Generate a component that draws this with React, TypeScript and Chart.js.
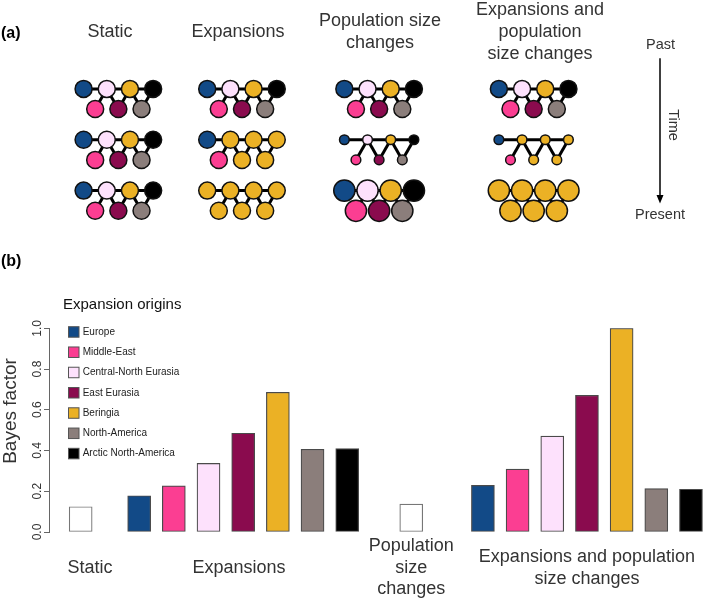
import React, { useEffect, useRef } from "react";
import { Chart, registerables } from "chart.js";

Chart.register(...registerables);

// ---------------- DATA ----------------
const origins = [
  "Europe",
  "Middle-East",
  "Central-North Eurasia",
  "East Eurasia",
  "Beringia",
  "North-America",
  "Arctic North-America",
];
const originColors = ["#124a87", "#fb3e92", "#fde1fc", "#8a0b4e", "#ebb125", "#8b7e7b", "#000000"];

const panelATitles = [["Static"], ["Expansions"], ["Population size", "changes"], ["Expansions and", "population", "size changes"]];
const panelBLabels = [["Static"], ["Expansions"], ["Population", "size", "changes"], ["Expansions and population", "size changes"]];
const legendTitle = "Expansion origins";
const yAxisTitle = "Bayes factor";
const timeLabels = ["Past", "Time", "Present"];

// Bayes factors per scenario (bars)
const staticBayes = [0.124];
const expansionsBayes = [0.178, 0.227, 0.337, 0.485, 0.686, 0.406, 0.409];
const popSizeBayes = [0.137];
const expPopBayes = [0.229, 0.309, 0.471, 0.671, 1.0, 0.213, 0.21];
const bayesTicks = [0, 0.2, 0.4, 0.6, 0.8, 1.0];

// Network snapshots (past -> present). Demes: 4 upper + 3 lower; value = origin index of the lineage
const staticSlices = [
  [0, 2, 4, 6, 1, 3, 5],
  [0, 2, 4, 6, 1, 3, 5],
  [0, 2, 4, 6, 1, 3, 5],
];
const expansionSlices = [
  [0, 2, 4, 6, 1, 3, 5],
  [0, 4, 4, 4, 1, 4, 4],
  [4, 4, 4, 4, 4, 4, 4],
];
const popSizeSlices = [
  [0, 2, 4, 6, 1, 3, 5],
  [0, 2, 4, 6, 1, 3, 5],
  [0, 2, 4, 6, 1, 3, 5],
];
const expPopSlices = [
  [0, 2, 4, 6, 1, 3, 5],
  [0, 4, 4, 4, 1, 4, 4],
  [4, 4, 4, 4, 4, 4, 4],
];
const constantSizes = [1, 1, 1];
const changingSizes = [1, 0.57, 1.25];
const networkEdges = [
  [0, 1], [1, 2], [2, 3],
  [1, 4], [1, 5], [2, 5], [2, 6], [3, 6],
];

// ---------------- LAYOUT / STYLE ----------------
const W = 709;
const H = 600;
const FONT = '"Liberation Sans", Arial, Helvetica, sans-serif';
const TEXT = "#333333";

const colCenterX = [110, 238, 380, 540];
const sliceY = [80, 133, 186];
const nodeStepX = 24;
const nodeStepY = 21;
const nodeRadius = 8.5;
const demeGridX = [-1.5, -0.5, 0.5, 1.5, -1, 0, 1];
const demeGridRow = [0, 0, 0, 0, 1, 1, 1];

const groupGapUnits = [0.87, 1.53, 1.77, 2.1];
const barGapUnits = 0.5;
const xUnitsMax = 28.55;
const groupLabelShift = [0.4, -0.18, 0, 0];

// ---------------- PANEL A ----------------
function buildPanelA() {
  const scenarioSlices = [staticSlices, expansionSlices, popSizeSlices, expPopSlices];
  const scenarioSizes = [constantSizes, constantSizes, changingSizes, changingSizes];
  const datasets: any[] = [];
  const nodePoints: any[] = [];
  const nodeColors: string[] = [];
  scenarioSlices.forEach((slices, c) => {
    slices.forEach((originIdx, s) => {
      const size = scenarioSizes[c][s];
      const pos = originIdx.map((_, k) => ({
        x: colCenterX[c] + demeGridX[k] * nodeStepX,
        y: sliceY[s] + demeGridRow[k] * nodeStepY,
      }));
      networkEdges.forEach(([a, b]) => {
        datasets.push({
          type: "line",
          data: [pos[a], pos[b]],
          borderColor: "#000",
          borderWidth: 3,
          pointRadius: 0,
          fill: false,
          order: 2,
        });
      });
      originIdx.forEach((o, k) => {
        nodePoints.push({ x: pos[k].x, y: pos[k].y, r: nodeRadius * size });
        nodeColors.push(originColors[o]);
      });
    });
  });
  datasets.push({
    type: "bubble",
    data: nodePoints,
    backgroundColor: nodeColors,
    borderColor: "#111",
    borderWidth: 1.5,
    order: 1,
  });

  const textPlugin = {
    id: "panelAText",
    afterDraw(chart: any) {
      const ctx = chart.ctx;
      ctx.save();
      ctx.textBaseline = "middle";
      ctx.fillStyle = "#000";
      ctx.font = `bold 16px ${FONT}`;
      ctx.textAlign = "left";
      ctx.fillText("(a)", 1, 34);

      ctx.fillStyle = TEXT;
      ctx.textAlign = "center";
      ctx.font = `18px ${FONT}`;
      const lh = 21.7;
      panelATitles.forEach((lines, c) => {
        const y0 = 32 - ((lines.length - 1) * lh) / 2;
        lines.forEach((t, i) => ctx.fillText(t, colCenterX[c], y0 + i * lh));
      });

      ctx.font = `14.5px ${FONT}`;
      ctx.fillText(timeLabels[0], 660.5, 45);
      ctx.fillText(timeLabels[2], 660, 215);
      ctx.save();
      ctx.translate(672.7, 125);
      ctx.rotate(Math.PI / 2);
      ctx.fillText(timeLabels[1], 0, 0);
      ctx.restore();

      ctx.strokeStyle = "#000";
      ctx.lineWidth = 1.5;
      ctx.beginPath();
      ctx.moveTo(660, 58.3);
      ctx.lineTo(660, 196);
      ctx.stroke();
      ctx.fillStyle = "#000";
      ctx.beginPath();
      ctx.moveTo(656.5, 195);
      ctx.lineTo(663.5, 195);
      ctx.lineTo(660, 203.5);
      ctx.closePath();
      ctx.fill();
      ctx.restore();
    },
  };

  return {
    type: "scatter",
    data: { datasets },
    options: {
      animation: false,
      responsive: false,
      events: [],
      layout: { padding: 0 },
      plugins: { legend: { display: false }, tooltip: { enabled: false } },
      scales: {
        x: { type: "linear", display: false, min: 0, max: W },
        y: { type: "linear", display: false, min: 0, max: H, reverse: true },
      },
    },
    plugins: [textPlugin],
  } as any;
}

// ---------------- PANEL B ----------------
function buildPanelB() {
  const groups = [staticBayes, expansionsBayes, popSizeBayes, expPopBayes];
  const points: any[] = [];
  const fills: string[] = [];
  const borders: string[] = [];
  const groupCenters: number[] = [];
  let u = 0;
  groups.forEach((vals, g) => {
    u += groupGapUnits[g];
    const centers: number[] = [];
    vals.forEach((v, j) => {
      if (j > 0) u += barGapUnits;
      const cx = u + 0.5;
      centers.push(cx);
      points.push({ x: cx, y: v });
      const single = vals.length === 1;
      fills.push(single ? "#ffffff" : originColors[j]);
      borders.push(single ? "#777777" : "#4a4a4a");
      u += 1;
    });
    groupCenters.push((centers[0] + centers[centers.length - 1]) / 2);
  });

  const textPlugin = {
    id: "panelBText",
    afterDraw(chart: any) {
      const ctx = chart.ctx;
      const ys = chart.scales.y;
      const xs = chart.scales.x;
      ctx.save();
      ctx.textBaseline = "middle";
      ctx.fillStyle = "#000";
      ctx.font = `bold 16px ${FONT}`;
      ctx.textAlign = "left";
      ctx.fillText("(b)", 1, 262);

      // legend
      ctx.fillStyle = "#111";
      ctx.font = `15px ${FONT}`;
      ctx.fillText(legendTitle, 63, 305);
      ctx.font = `10px ${FONT}`;
      origins.forEach((name, i) => {
        const y = 332 + i * 20.27;
        ctx.fillStyle = originColors[i];
        ctx.fillRect(68.5, y - 5.3, 10.5, 10.5);
        ctx.strokeStyle = "#555";
        ctx.lineWidth = 1;
        ctx.strokeRect(68.5, y - 5.3, 10.5, 10.5);
        ctx.fillStyle = "#222";
        ctx.fillText(name, 82.7, y);
      });

      // rotated tick labels
      ctx.fillStyle = TEXT;
      ctx.textAlign = "center";
      ctx.font = `12px ${FONT}`;
      bayesTicks.forEach((v) => {
        ctx.save();
        ctx.translate(37.3, ys.getPixelForValue(v));
        ctx.rotate(-Math.PI / 2);
        ctx.fillText(v.toFixed(1), 0, 0);
        ctx.restore();
      });

      ctx.font = `19px ${FONT}`;
      ctx.save();
      ctx.translate(11, 411);
      ctx.rotate(-Math.PI / 2);
      ctx.fillText(yAxisTitle, 0, 0);
      ctx.restore();

      // group labels
      ctx.font = `18px ${FONT}`;
      const lh = 21.7;
      panelBLabels.forEach((lines, g) => {
        const x = xs.getPixelForValue(groupCenters[g] + groupLabelShift[g]);
        const y0 = 567.8 - ((lines.length - 1) * lh) / 2;
        lines.forEach((t, i) => ctx.fillText(t, x, y0 + i * lh));
      });
      ctx.restore();
    },
  };

  return {
    type: "bar",
    data: {
      datasets: [
        {
          data: points,
          backgroundColor: fills,
          borderColor: borders,
          borderWidth: 1.2,
          borderSkipped: false,
          barThickness: 23,
        },
      ],
    },
    options: {
      animation: false,
      responsive: false,
      events: [],
      layout: { padding: { top: 328.3, bottom: 68, left: 0, right: 0 } },
      plugins: { legend: { display: false }, tooltip: { enabled: false } },
      scales: {
        x: {
          type: "linear",
          display: false,
          min: 0,
          max: xUnitsMax,
          offset: false,
          grid: { offset: false },
        },
        y: {
          type: "linear",
          position: "left",
          min: 0,
          max: 1,
          afterFit: (s: any) => {
            s.width = 49;
          },
          afterBuildTicks: (s: any) => {
            s.ticks = bayesTicks.map((v) => ({ value: v }));
          },
          ticks: { display: false },
          grid: { drawOnChartArea: false, drawTicks: true, tickLength: 5, color: "#666", lineWidth: 1 },
          border: { display: true, color: "#666", width: 1 },
        },
      },
    },
    plugins: [textPlugin],
  } as any;
}

export default function App() {
  const aRef = useRef<HTMLCanvasElement>(null);
  const bRef = useRef<HTMLCanvasElement>(null);
  useEffect(() => {
    const ca = new Chart(aRef.current as HTMLCanvasElement, buildPanelA());
    const cb = new Chart(bRef.current as HTMLCanvasElement, buildPanelB());
    return () => {
      ca.destroy();
      cb.destroy();
    };
  }, []);
  return (
    <div style={{ position: "fixed", left: 0, top: 0, width: W, height: H, background: "#fff" }}>
      <canvas ref={aRef} width={W} height={H} style={{ position: "absolute", left: 0, top: 0 }} />
      <canvas ref={bRef} width={W} height={H} style={{ position: "absolute", left: 0, top: 0 }} />
    </div>
  );
}
